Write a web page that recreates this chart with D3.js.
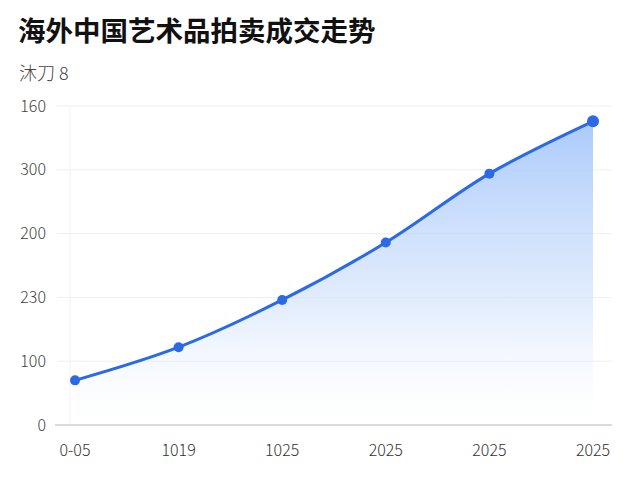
<!DOCTYPE html>
<html>
<head>
  <meta charset="UTF-8">
  <title>海外中国艺术品拍卖成交走势</title>
  <script src="https://d3js.org/d3.v7.min.js"></script>
  <style>
    body { margin: 0; background: #fff; }
    text { font-family: "Noto Sans CJK SC", "Noto Sans", sans-serif; }
  </style>
</head>
<body>
  <svg width="640" height="480"></svg>

  <script>
    const categories = ["0-05", "1019", "1025", "2025", "2025", "2025"];
    const values = [70, 122, 196, 286, 394, 476];
    const yTicks = [0, 100, 200, 300, 400, 500];
    const yTickLabels = ["0", "100", "230", "200", "300", "160"];

    const svg = d3.select("svg");

    const x = d3.scalePoint()
      .domain(d3.range(categories.length))
      .range([75, 593]);

    const y = d3.scaleLinear()
      .domain([0, 500])
      .range([425, 106]);

    // title
    svg.append("text")
      .attr("x", 18)
      .attr("y", 41)
      .attr("font-size", 27.5)
      .attr("font-weight", "bold")
      .attr("fill", "#111")
      .text("海外中国艺术品拍卖成交走势");

    svg.append("text")
      .attr("x", 19)
      .attr("y", 80)
      .attr("font-size", 18)
      .attr("font-weight", 300)
      .attr("fill", "#444")
      .text("沐刀  8");

    // gradient
    const defs = svg.append("defs");
    const grad = defs.append("linearGradient")
      .attr("id", "areaFill")
      .attr("x1", 0).attr("y1", 0)
      .attr("x2", 0).attr("y2", 1);
    grad.append("stop").attr("offset", "0%").attr("stop-color", "#9cc1fa").attr("stop-opacity", 0.85);
    grad.append("stop").attr("offset", "60%").attr("stop-color", "#cfe0fc").attr("stop-opacity", 0.6);
    grad.append("stop").attr("offset", "100%").attr("stop-color", "#ffffff").attr("stop-opacity", 0.2);

    // grid
    svg.append("g")
      .selectAll("line")
      .data(yTicks.slice(1))
      .join("line")
      .attr("x1", 57)
      .attr("x2", 612)
      .attr("y1", d => y(d))
      .attr("y2", d => y(d))
      .attr("stroke", "#efefef")
      .attr("stroke-width", 1);

    svg.append("line")
      .attr("x1", 70).attr("x2", 70)
      .attr("y1", 106).attr("y2", 425)
      .attr("stroke", "#f2f2f2");

    // y labels
    svg.append("g")
      .selectAll("text")
      .data(yTicks)
      .join("text")
      .attr("x", 46)
      .attr("y", d => y(d))
      .attr("dy", "0.35em")
      .attr("text-anchor", "end")
      .attr("font-size", 16)
      .attr("font-weight", 300)
      .attr("fill", "#444")
      .text((d, i) => yTickLabels[i]);

    // area + line
    const curve = d3.curveCatmullRom.alpha(0.5);

    const area = d3.area()
      .x((d, i) => x(i))
      .y0(y(0))
      .y1(d => y(d))
      .curve(curve);

    const line = d3.line()
      .x((d, i) => x(i))
      .y(d => y(d))
      .curve(curve);

    svg.append("path")
      .datum(values)
      .attr("d", area)
      .attr("fill", "url(#areaFill)");

    // x axis line
    svg.append("line")
      .attr("x1", 55).attr("x2", 612)
      .attr("y1", 425).attr("y2", 425)
      .attr("stroke", "#cfcfcf")
      .attr("stroke-width", 1.5);

    svg.append("path")
      .datum(values)
      .attr("d", line)
      .attr("fill", "none")
      .attr("stroke", "#2a6ae6")
      .attr("stroke-width", 3);

    svg.append("g")
      .selectAll("circle")
      .data(values)
      .join("circle")
      .attr("cx", (d, i) => x(i))
      .attr("cy", d => y(d))
      .attr("r", (d, i) => i === values.length - 1 ? 6 : 5)
      .attr("fill", "#2a6ae6");

    // x labels
    svg.append("g")
      .selectAll("text")
      .data(categories)
      .join("text")
      .attr("x", (d, i) => x(i))
      .attr("y", 456)
      .attr("text-anchor", "middle")
      .attr("font-size", 16)
      .attr("font-weight", 300)
      .attr("fill", "#333")
      .text(d => d);
  </script>
</body>
</html>
